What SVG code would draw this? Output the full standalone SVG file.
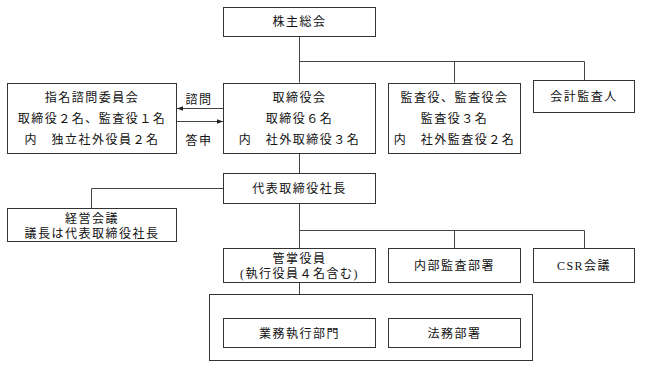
<svg xmlns="http://www.w3.org/2000/svg" width="645" height="368" viewBox="0 0 645 368">
<style>
.box{fill:#fff;stroke:#333;stroke-width:1}
.ln{fill:none;stroke:#444;stroke-width:1}
text{font-family:"Liberation Serif","Noto Sans CJK JP",serif;font-size:12px;fill:#111;text-anchor:middle;letter-spacing:1.5px}
</style>
<defs>
<marker id="ah" viewBox="0 0 8 8" refX="8" refY="4" markerWidth="6" markerHeight="6" orient="auto" markerUnits="userSpaceOnUse">
<path d="M0,1 L8,4 L0,7 z" fill="#222"/>
</marker>
</defs>
<rect width="645" height="368" fill="#fff"/>
<g id="connectors">
<path class="ln" d="M299.5,36.5 V82.5"/>
<path class="ln" d="M299.5,61.5 H584.5 V80.5 M454.5,61.5 V82.5"/>
<path class="ln" d="M299.5,153.5 V173.5"/>
<path class="ln" d="M223.5,188.5 H91.5 V208.5"/>
<path class="ln" d="M299.5,203.5 V248.5"/>
<path class="ln" d="M299.5,230.5 H584.5 V248.5 M454.5,230.5 V248.5"/>
<path class="ln" d="M299.5,282.5 V318.5"/>
<path class="ln" d="M299.5,306.5 H454.5 V318.5"/>
<path class="ln" d="M223.5,108.5 H177" marker-end="url(#ah)"/>
<path class="ln" d="M176.5,121.5 H223" marker-end="url(#ah)"/>
<text x="199" y="104">諮問</text>
<text x="199" y="145">答申</text>
</g>
<g id="container">
<rect class="box" x="209.5" y="294.5" width="323" height="66" fill="none"/>
</g>
<g id="n-kabunushi">
<rect class="box" x="223.5" y="7.5" width="152" height="29"/>
<text x="299.5" y="26">株主総会</text>
</g>
<g id="n-shimei">
<rect class="box" x="7.5" y="83.5" width="169" height="70"/>
<text x="92" y="102">指名諮問委員会</text>
<text x="92" y="123">取締役２名、監査役１名</text>
<text x="92" y="144">内　独立社外役員２名</text>
</g>
<g id="n-torishimariyakukai">
<rect class="box" x="223.5" y="83.5" width="152" height="70"/>
<text x="299.5" y="102">取締役会</text>
<text x="299.5" y="123">取締役６名</text>
<text x="299.5" y="144">内　社外取締役３名</text>
</g>
<g id="n-kansayaku">
<rect class="box" x="388.5" y="83.5" width="132" height="70"/>
<text x="454.5" y="102">監査役、監査役会</text>
<text x="454.5" y="123">監査役３名</text>
<text x="454.5" y="144">内　社外監査役２名</text>
</g>
<g id="n-kaikei">
<rect class="box" x="533.5" y="80.5" width="101" height="32"/>
<text x="584" y="101">会計監査人</text>
</g>
<g id="n-daihyo">
<rect class="box" x="223.5" y="173.5" width="152" height="30"/>
<text x="299.5" y="193">代表取締役社長</text>
</g>
<g id="n-keiei">
<rect class="box" x="7.5" y="208.5" width="169" height="33"/>
<text x="92" y="223">経営会議</text>
<text x="92" y="238">議長は代表取締役社長</text>
</g>
<g id="n-kansho">
<rect class="box" x="223.5" y="248.5" width="152" height="34"/>
<text x="299.5" y="263">管掌役員</text>
<text x="299.5" y="278">(執行役員４名含む)</text>
</g>
<g id="n-naibu">
<rect class="box" x="388.5" y="248.5" width="132" height="34"/>
<text x="454.5" y="270">内部監査部署</text>
</g>
<g id="n-csr">
<rect class="box" x="533.5" y="248.5" width="101" height="34"/>
<text x="584" y="270">CSR会議</text>
</g>
<g id="n-gyomu">
<rect class="box" x="223.5" y="318.5" width="152" height="29"/>
<text x="299.5" y="338">業務執行部門</text>
</g>
<g id="n-homu">
<rect class="box" x="388.5" y="318.5" width="132" height="29"/>
<text x="454.5" y="338">法務部署</text>
</g>
</svg>
